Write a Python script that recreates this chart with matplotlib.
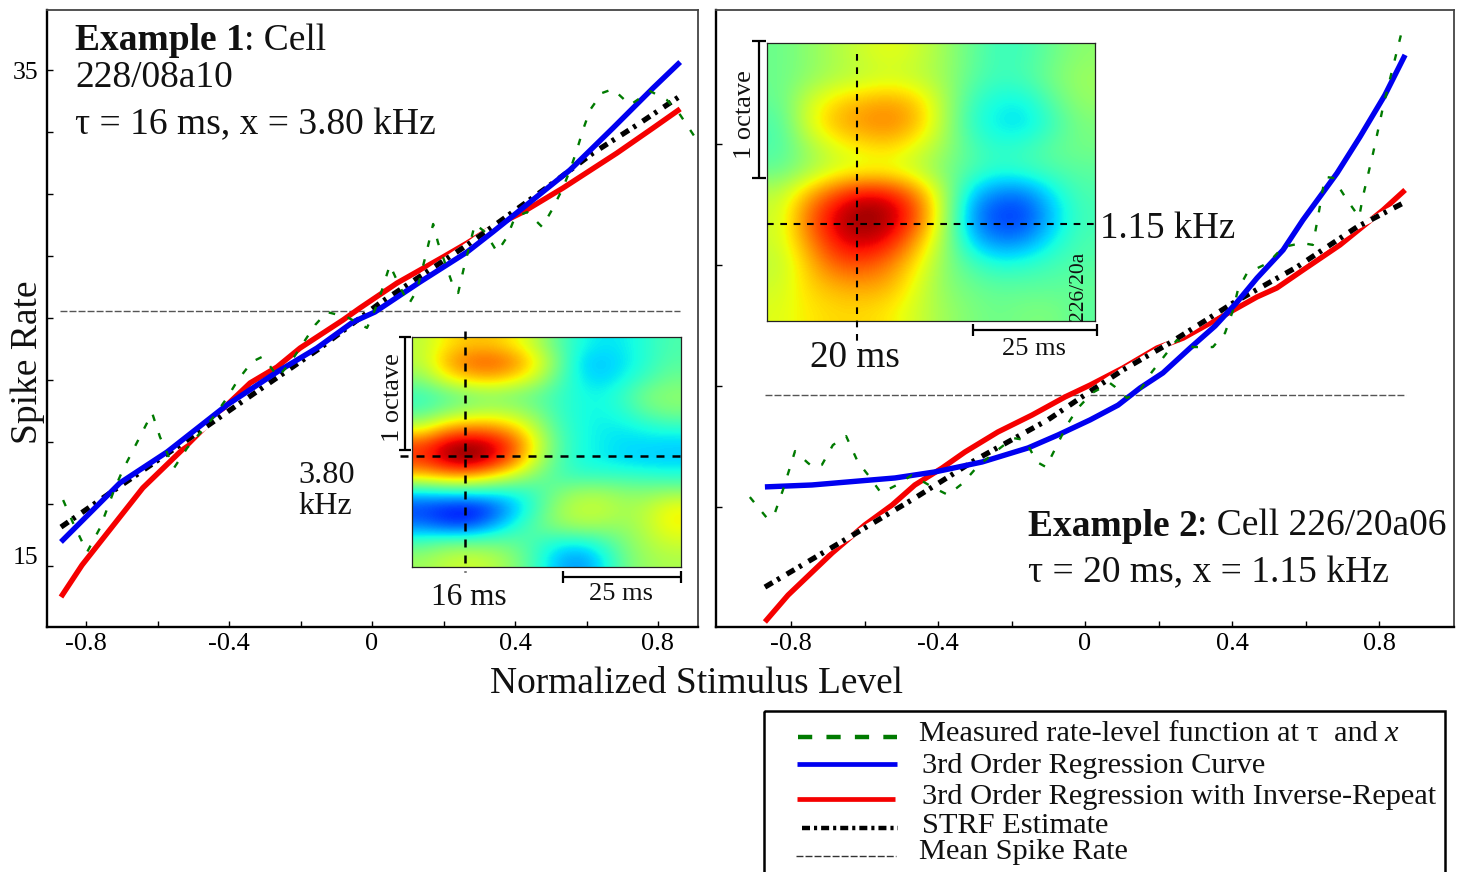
import numpy as np
import matplotlib
matplotlib.use("Agg")
import matplotlib.pyplot as plt
from matplotlib.transforms import ScaledTranslation
from matplotlib.patches import Rectangle

plt.rcParams['font.family'] = ['Liberation Serif', 'DejaVu Serif']

W, H = 1460, 872

# ---------- Example 1 ----------
ex1_meas_x = [-0.864,-0.836,-0.797,-0.761,-0.719,-0.697,-0.615,-0.593,-0.554,-0.517,-0.445,-0.406,-0.375,-0.336,-0.308,-0.294,-0.263,-0.229,-0.196,-0.159,-0.126,-0.070,-0.014,0.008,0.028,0.050,0.073,0.103,0.126,0.154,0.171,0.185,0.224,0.241,0.257,0.288,0.316,0.350,0.378,0.400,0.434,0.476,0.503,0.534,0.554,0.573,0.590,0.610,0.643,0.674,0.722,0.778,0.825,0.862,0.903]
ex1_meas_y = [17.66,16.73,15.56,16.53,18.15,18.87,21.17,20.20,18.95,19.76,20.97,21.77,22.50,23.23,23.43,23.23,22.62,23.19,23.91,24.72,25.24,25.04,24.60,25.32,26.13,27.14,26.41,25.56,26.13,27.74,28.79,28.02,26.41,26.01,27.02,28.79,28.47,27.66,28.27,29.07,29.27,28.67,29.35,30.24,30.97,31.77,32.58,33.39,34.07,34.23,33.59,34.15,33.79,33.19,32.30]
ex1_blue_x = [-0.870,-0.705,-0.573,-0.406,-0.266,-0.154,-0.053,0.008,0.134,0.266,0.338,0.422,0.554,0.674,0.786,0.862]
ex1_blue_y = [15.97,18.35,19.60,21.49,22.82,23.79,24.84,25.24,26.45,27.66,28.47,29.44,30.97,32.66,34.27,35.32]
ex1_red_x = [-0.870,-0.811,-0.705,-0.641,-0.517,-0.406,-0.341,-0.266,-0.201,-0.081,-0.034,0.070,0.199,0.266,0.338,0.422,0.534,0.685,0.786,0.862]
ex1_red_y = [13.75,15.04,16.98,18.15,19.88,21.49,22.38,23.02,23.79,24.92,25.40,26.41,27.46,28.02,28.67,29.27,30.24,31.65,32.66,33.43]
ex1_strf_x = [-0.870,-0.733,-0.517,-0.389,-0.145,0.022,0.266,0.506,0.618,0.741,0.862]
ex1_strf_y = [16.57,17.94,20.08,21.37,23.79,25.60,27.94,30.44,31.65,32.78,33.95]
ex1_mean_x = [-0.873, 0.862]
ex1_mean_y = [25.28, 25.28]

# ---------- Example 2 ----------
ex2_meas_x = [-0.912,-0.863,-0.844,-0.822,-0.789,-0.754,-0.740,-0.716,-0.686,-0.650,-0.618,-0.590,-0.555,-0.512,-0.471,-0.416,-0.373,-0.332,-0.294,-0.245,-0.196,-0.163,-0.131,-0.106,-0.076,-0.049,-0.019,0.019,0.068,0.082,0.114,0.150,0.182,0.212,0.250,0.294,0.348,0.381,0.403,0.416,0.441,0.498,0.539,0.590,0.620,0.634,0.653,0.675,0.713,0.746,0.756,0.784,0.811,0.838,0.865]
ex2_meas_y = [10.41,9.50,9.75,10.70,12.31,11.82,11.65,11.74,12.56,12.93,11.86,11.32,10.58,10.91,11.32,10.83,10.50,10.99,11.65,12.27,12.85,12.77,11.86,11.65,12.56,13.39,14.09,14.71,15.12,14.96,14.50,14.83,15.58,16.16,16.90,16.61,16.61,17.19,18.14,18.97,19.67,20.08,20.74,20.91,20.83,21.98,23.64,23.60,22.69,21.98,22.81,24.63,26.53,28.18,29.83]
ex2_blue_x = [-0.871,-0.743,-0.517,-0.408,-0.280,-0.155,-0.073,0.014,0.090,0.150,0.212,0.286,0.354,0.414,0.468,0.539,0.593,0.686,0.748,0.816,0.871]
ex2_blue_y = [10.83,10.91,11.20,11.45,11.86,12.44,12.98,13.60,14.21,14.92,15.54,16.57,17.48,18.47,19.46,20.62,21.86,23.80,25.29,27.02,28.68]
ex2_red_x = [-0.871,-0.808,-0.688,-0.599,-0.525,-0.463,-0.389,-0.327,-0.237,-0.144,-0.054,0.014,0.103,0.196,0.267,0.395,0.468,0.522,0.593,0.694,0.811,0.871]
ex2_red_y = [5.25,6.36,8.10,9.26,10.08,10.91,11.61,12.27,13.10,13.80,14.55,15.04,15.74,16.57,16.98,18.06,18.68,19.05,19.79,20.83,22.27,23.10]
ex2_strf_x = [-0.871,-0.645,-0.463,-0.299,-0.101,0.019,0.103,0.231,0.403,0.577,0.740,0.871]
ex2_strf_y = [6.69,8.72,10.37,11.94,13.60,14.83,15.66,16.78,18.43,19.92,21.57,22.60]
ex2_mean_x = [-0.871, 0.873]
ex2_mean_y = [14.63, 14.63]

# ---------- STRF insets (estimated, 0..1 on the jet colour scale) ----------
strf1 = [
 [.58,.66,.70,.70,.66,.58,.46,.38,.35,.36,.40,.44],
 [.58,.72,.80,.82,.78,.66,.50,.34,.32,.35,.40,.45],
 [.52,.64,.70,.72,.68,.60,.46,.36,.33,.37,.43,.48],
 [.42,.46,.50,.52,.50,.47,.42,.38,.37,.42,.50,.52],
 [.44,.50,.54,.56,.55,.50,.42,.38,.37,.40,.47,.50],
 [.60,.72,.76,.76,.70,.58,.44,.38,.36,.36,.38,.40],
 [.84,.94,.98,.94,.84,.64,.46,.38,.36,.34,.34,.33],
 [.86,.95,1.0,.93,.80,.60,.45,.38,.36,.34,.33,.33],
 [.68,.72,.72,.66,.58,.50,.44,.42,.42,.42,.41,.40],
 [.33,.35,.36,.36,.37,.42,.50,.55,.55,.52,.52,.54],
 [.18,.14,.12,.18,.30,.42,.54,.59,.59,.55,.58,.65],
 [.25,.20,.20,.28,.38,.46,.52,.55,.54,.53,.58,.65],
 [.44,.48,.48,.48,.47,.43,.38,.37,.42,.50,.56,.60],
 [.54,.58,.60,.58,.52,.42,.31,.27,.35,.48,.54,.56],
]
strf2 = [
 [.48,.52,.56,.60,.63,.60,.54,.47,.42,.43,.48,.52],
 [.48,.52,.56,.58,.60,.58,.54,.46,.42,.44,.50,.54],
 [.47,.60,.68,.72,.74,.70,.56,.42,.37,.37,.46,.53],
 [.44,.62,.72,.76,.78,.72,.56,.40,.35,.34,.42,.50],
 [.44,.54,.62,.66,.68,.62,.54,.44,.40,.42,.47,.49],
 [.47,.54,.60,.62,.62,.58,.50,.44,.40,.42,.44,.46],
 [.58,.72,.84,.92,.90,.78,.56,.32,.24,.24,.36,.44],
 [.60,.80,.94,1.0,.97,.84,.56,.26,.17,.18,.32,.43],
 [.60,.76,.90,.95,.90,.74,.54,.32,.24,.26,.37,.44],
 [.58,.70,.82,.84,.78,.66,.52,.43,.38,.40,.43,.45],
 [.60,.68,.72,.74,.72,.62,.52,.48,.46,.46,.46,.47],
 [.62,.66,.68,.68,.66,.60,.54,.50,.48,.50,.50,.46],
]

x_major = [-0.8, -0.4, 0, 0.4, 0.8]
x_minor = [-0.6, -0.2, 0.2, 0.6]
x_labels = ['-0.8', '-0.4', '0', '0.4', '0.8']
ex1_yticks = [15, 17.5, 20, 22.5, 25, 27.5, 30, 32.5, 35]
ex2_yticks = [10, 15, 20, 25]

GREEN, BLUE, RED = '#007a00', '#0000f0', '#f50000'
STRF_DASH = (0, (1.7, 1.0, 0.6, 1.5))
MEAS_DASH = (0, (2.8, 5.4))

fig = plt.figure(figsize=(W/100, H/100), dpi=100, facecolor='white')

def px_axes(l, t, r, b, **kw):
    return fig.add_axes([l/W, 1-b/H, (r-l)/W, (b-t)/H], **kw)

def draw_curves(ax, mean, red, strf, blue, meas):
    ax.plot(*mean, color='#555555', lw=1.0, ls=(0, (5, 1.5)), zorder=2)
    ax.plot(*red, color=RED, lw=3.9, solid_capstyle='butt', zorder=3)
    ax.plot(*strf, color='white', lw=3.8, solid_capstyle='butt', zorder=4)
    ax.plot(*strf, color='black', lw=3.8, ls=STRF_DASH, dash_capstyle='butt', zorder=5)
    ax.plot(*blue, color=BLUE, lw=3.9, solid_capstyle='butt', zorder=6)
    ax.plot(*meas, color=GREEN, lw=1.7, ls=MEAS_DASH, dash_capstyle='butt', zorder=7)

def style(ax, yticks):
    for s in ('left', 'bottom'):
        ax.spines[s].set_linewidth(1.7)
        ax.spines[s].set_color('black')
    for s in ('top', 'right'):
        ax.spines[s].set_linewidth(1.3)
        ax.spines[s].set_color('#444444')
    ax.set_xticks(x_major)
    ax.set_xticklabels(x_labels)
    ax.set_xticks(x_minor, minor=True)
    ax.set_yticks(yticks)
    ax.tick_params(axis='both', which='both', direction='in', length=4.5, width=1.0,
                   labelsize=19, top=False, right=False)
    ax.tick_params(axis='x', pad=4)

# Left panel
ax1 = px_axes(47, 10, 698, 627)
ax1.set_xlim((47-372)/357.5, (698-372)/357.5)
ax1.set_ylim(35-(627-70)/24.8, 35+60/24.8)
draw_curves(ax1, (ex1_mean_x, ex1_mean_y), (ex1_red_x, ex1_red_y), (ex1_strf_x, ex1_strf_y),
            (ex1_blue_x, ex1_blue_y), (ex1_meas_x, ex1_meas_y))
style(ax1, ex1_yticks)
ax1.set_yticklabels(['15', '', '', '', '', '', '', '', '35'])
ax1.tick_params(axis='y', labelsize=18.5, pad=6)
lbl15 = ax1.get_yticklabels()[0]
lbl15.set_transform(lbl15.get_transform() + ScaledTranslation(0, 11/100, fig.dpi_scale_trans))

# Right panel
ax2 = px_axes(716, 10, 1454, 627)
ax2.set_xlim((716-1085)/367.5, (1454-1085)/367.5)
ax2.set_ylim(10-(627-507)/24.2, 10+(507-10)/24.2)
draw_curves(ax2, (ex2_mean_x, ex2_mean_y), (ex2_red_x, ex2_red_y), (ex2_strf_x, ex2_strf_y),
            (ex2_blue_x, ex2_blue_y), (ex2_meas_x, ex2_meas_y))
style(ax2, ex2_yticks)
ax2.set_yticklabels([])

# Insets
for box, grid in (((412, 337, 681, 567), strf1), ((767, 43, 1095, 321), strf2)):
    ia = px_axes(*box)
    ia.imshow(np.array(grid), cmap='jet', vmin=0, vmax=1, aspect='auto', interpolation='bicubic')
    ia.set_xticks([]); ia.set_yticks([])
    for s in ia.spines.values():
        s.set_linewidth(0.9); s.set_color('#222222')
    ia.set_zorder(5)

# Overlay in pixel coordinates for annotations and legend
ov = fig.add_axes([0, 0, 1, 1], facecolor='none', zorder=10)
ov.set_xlim(0, W); ov.set_ylim(H, 0); ov.axis('off')

def T(x, y, s, size=22, **kw):
    kw.setdefault('va', 'center'); kw.setdefault('ha', 'left'); kw.setdefault('color', '#111111')
    if 'rotation' in kw:
        x += 3
    else:
        y += 3
    return ov.text(x, y, s, fontsize=size, **kw)

BIG = 27
T(75, 38, 'Example 1', BIG, weight='bold')
T(244, 38, ': Cell', BIG)
T(75, 75, '228/08a10', BIG)
T(75, 122, 'τ = 16 ms, x = 3.80 kHz', BIG)
T(1028, 523, 'Example 2', BIG, weight='bold')
T(1197, 523, ': Cell 226/20a06', BIG)
T(1028, 570, 'τ = 20 ms, x = 1.15 kHz', BIG)

T(25, 362, 'Spike Rate', 27, rotation=90, ha='center')
T(697, 681, 'Normalized Stimulus Level', 26.9, ha='center')

T(298, 472, '3.80', 23.2)
T(298, 503, 'kHz', 23.2)
T(390, 398, '1 octave', 19, rotation=90, ha='center')
T(469, 594, '16 ms', 22.6, ha='center')
T(621, 591, '25 ms', 19, ha='center')

T(742, 115, '1 octave', 19, rotation=90, ha='center')
T(855, 355, '20 ms', 26.8, ha='center')
T(1034, 346, '25 ms', 19, ha='center')
T(1100, 226, '1.15 kHz', 26.6)
T(1075, 286, '226/20a', 15.5, rotation=90, ha='center')

DASH = (0, (3.2, 3.2))
ov.plot([465, 465], [331, 572], color='black', lw=1.8, ls=DASH)
ov.plot([400, 685], [456, 456], color='black', lw=1.8, ls=DASH)
ov.plot([857, 857], [54, 345], color='black', lw=1.5, ls=DASH)
ov.plot([767, 1095], [224, 224], color='black', lw=1.5, ls=DASH)

def bar(x0, y0, x1, y1, cap):
    ov.plot([x0, x1], [y0, y1], color='black', lw=1.6, solid_capstyle='butt')
    if x0 == x1:
        for y in (y0, y1):
            ov.plot([x0-cap, x0+cap], [y, y], color='black', lw=1.6, solid_capstyle='butt')
    else:
        for x in (x0, x1):
            ov.plot([x, x], [y0-cap, y0+cap], color='black', lw=1.6, solid_capstyle='butt')

bar(405, 337, 405, 450, 6)
bar(563, 577, 681, 577, 6)
bar(759, 41, 759, 178, 7)
bar(973, 330, 1097, 330, 6)

# Legend
ov.add_patch(Rectangle((764, 711), 681, 200, fill=False, ec='black', lw=1.8, clip_on=True))
ov.plot([798, 897], [737, 737], color=GREEN, lw=3.2, ls=(0, (3.2, 3.2)), dash_capstyle='butt')
ov.plot([797, 897], [764, 764], color=BLUE, lw=3.4, solid_capstyle='butt')
ov.plot([797, 895], [799, 799], color=RED, lw=3.4, solid_capstyle='butt')
ov.plot([802, 898], [828, 828], color='black', lw=3.2, ls=(0, (1.8, 0.9, 0.7, 0.9)), dash_capstyle='butt')
ov.plot([796, 896], [856, 856], color='#333333', lw=1.0, ls=(0, (5, 1.5)))
LEG = 21.9
T(919, 731, 'Measured rate-level function at τ  and ', LEG)
T(1384, 731, 'x', LEG, style='italic')
T(922, 763, '3rd Order Regression Curve', LEG)
T(922, 794, '3rd Order Regression with Inverse-Repeat', LEG)
T(922, 823, 'STRF Estimate', LEG)
T(919, 849, 'Mean Spike Rate', LEG)

fig.savefig('out.png', dpi=100, facecolor='white')
